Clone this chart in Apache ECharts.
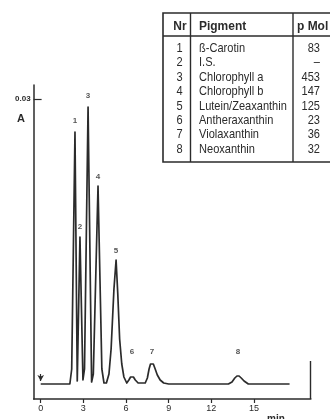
<!DOCTYPE html>
<html><head><meta charset="utf-8">
<script src="https://cdn.jsdelivr.net/npm/echarts@6/dist/echarts.min.js"></script>
<style>html,body{margin:0;padding:0;background:#fff}#c{width:330px;height:419px}</style>
</head><body><div id="c"></div>
<script>
// Chromatogram trace (retention time in min, absorbance A)
const traceTime = [0, 2.05, 2.18, 2.41, 2.57, 2.76, 2.97, 3.08, 3.33, 3.58, 3.70, 4.03, 4.30, 4.45, 4.62, 4.80, 4.95, 5.15, 5.30, 5.42, 5.55, 5.70, 5.85, 6.05, 6.20, 6.32, 6.42, 6.52, 6.65, 6.85, 7.35, 7.50, 7.62, 7.72, 7.82, 7.92, 8.05, 8.20, 8.40, 8.65, 9.00, 13.20, 13.45, 13.65, 13.80, 13.95, 14.10, 14.30, 14.60, 17.50];
const traceAbs  = [0.0015, 0.0015, 0.0030, 0.0267, 0.0018, 0.0162, 0.0019, 0.0030, 0.0292, 0.0017, 0.0025, 0.0213, 0.0030, 0.0016, 0.0016, 0.0025, 0.0050, 0.0110, 0.0139, 0.0105, 0.0060, 0.0035, 0.0022, 0.0016, 0.0019, 0.0022, 0.0023, 0.0022, 0.0019, 0.0016, 0.0016, 0.0021, 0.0030, 0.0035, 0.0036, 0.0035, 0.0030, 0.0024, 0.0019, 0.0016, 0.0015, 0.0015, 0.0017, 0.0021, 0.0023, 0.0023, 0.0021, 0.0018, 0.0015, 0.0015];
// Peak number labels
const peakNames = ['1', '2', '3', '4', '5', '6', '7', '8'];
const peakLabelTime = [2.41, 2.76, 3.33, 4.03, 5.30, 6.42, 7.83, 13.87];
const peakLabelAbs  = [0.0278, 0.0172, 0.0303, 0.0222, 0.0148, 0.0047, 0.0047, 0.0047];
// Axis ticks
const xTicks = [0, 3, 6, 9, 12, 15];
const yTicks = [0.03];
const yTickLabels = ['0.03'];
// Injection arrow
const injectTime = 0;
const injectFrom = 0.0025;
const injectTo = 0.0018;
// Table
const tableHeader = ['Nr', 'Pigment', 'p Mol'];
const tableNr = ['1', '2', '3', '4', '5', '6', '7', '8'];
const tablePigment = ['ß-Carotin', 'I.S.', 'Chlorophyll a', 'Chlorophyll b', 'Lutein/Zeaxanthin', 'Antheraxanthin', 'Violaxanthin', 'Neoxanthin'];
const tablePmol = ['83', '–', '453', '147', '125', '23', '36', '32'];

const INK = '#2b2b2b';
const FONT = 'Liberation Sans, Arial, sans-serif';

const chart = echarts.init(document.getElementById('c'), null, {renderer: 'canvas'});

const graphics = [];
// table frame
const tL = 163, tT = 13, tB = 162, tHead = 36, c1 = 190.5, c2 = 293;
graphics.push({type: 'rect', shape: {x: tL, y: tT, width: 190, height: tB - tT}, style: {fill: 'none', stroke: INK, lineWidth: 1.6}, silent: true});
graphics.push({type: 'line', shape: {x1: tL, y1: tHead, x2: 340, y2: tHead}, style: {stroke: INK, lineWidth: 1.4}, silent: true});
graphics.push({type: 'line', shape: {x1: c1, y1: tT, x2: c1, y2: tB}, style: {stroke: INK, lineWidth: 1.4}, silent: true});
graphics.push({type: 'line', shape: {x1: c2, y1: tT, x2: c2, y2: tB}, style: {stroke: INK, lineWidth: 1.4}, silent: true});
const hdrX = [180, 199, 297];
const hdrAlign = ['center', 'left', 'left'];
tableHeader.forEach((h, i) => {
  graphics.push({type: 'text', x: hdrX[i], y: 26, scaleX: 0.92, silent: true,
    style: {text: h, fontSize: 13, fontWeight: 'bold', fontFamily: FONT, fill: INK, align: hdrAlign[i], verticalAlign: 'middle'}});
});
const rowY0 = 48.5, rowStep = 14.4;
tableNr.forEach((n, i) => {
  const y = rowY0 + i * rowStep;
  graphics.push({type: 'text', x: 179.5, y: y, scaleX: 0.85, silent: true,
    style: {text: n, fontSize: 13, fontFamily: FONT, fill: INK, align: 'center', verticalAlign: 'middle'}});
  graphics.push({type: 'text', x: 199, y: y, scaleX: 0.85, silent: true,
    style: {text: tablePigment[i], fontSize: 13, fontFamily: FONT, fill: INK, align: 'left', verticalAlign: 'middle'}});
  graphics.push({type: 'text', x: 320, y: y, scaleX: 0.85, silent: true,
    style: {text: tablePmol[i], fontSize: 13, fontFamily: FONT, fill: INK, align: 'right', verticalAlign: 'middle'}});
});
// axis name "A" and unit "min", right frame stub
graphics.push({type: 'text', x: 21, y: 119, silent: true,
  style: {text: 'A', fontSize: 11, fontWeight: 'bold', fontFamily: FONT, fill: INK, align: 'center', verticalAlign: 'middle'}});
graphics.push({type: 'text', x: 276, y: 414, silent: true,
  style: {text: 'min', fontSize: 10, fontWeight: 'bold', fontFamily: FONT, fill: INK, align: 'center', verticalAlign: 'top'}});
graphics.push({type: 'line', shape: {x1: 310.5, y1: 361, x2: 310.5, y2: 399}, style: {stroke: INK, lineWidth: 1.4}, silent: true});

const option = {
  backgroundColor: '#fff',
  animation: false,
  grid: {left: 33.6, right: 19.1, top: 85, bottom: 20, containLabel: false, outerBoundsMode: 'none'},
  xAxis: {
    type: 'value', min: -0.5, max: 19,
    axisLine: {show: true, onZero: false, lineStyle: {color: INK, width: 1.5}},
    axisTick: {show: true, customValues: xTicks, length: 4, lineStyle: {color: INK, width: 1.2}},
    axisLabel: {show: true, customValues: xTicks, margin: 5, fontSize: 9, fontFamily: FONT, color: INK},
    splitLine: {show: false}
  },
  yAxis: {
    type: 'value', min: 0, max: 0.0314,
    axisLine: {show: true, onZero: false, lineStyle: {color: INK, width: 1.5}},
    axisTick: {show: true, inside: true, customValues: yTicks, length: 8, lineStyle: {color: INK, width: 1.2}},
    axisLabel: {show: true, customValues: yTicks, margin: 3, fontSize: 8, fontWeight: 'bold', fontFamily: FONT, color: INK,
      formatter: v => yTickLabels[yTicks.indexOf(v)] ?? ''},
    splitLine: {show: false}
  },
  series: [
    {
      type: 'line', name: 'trace',
      data: traceTime.map((t, i) => [t, traceAbs[i]]),
      showSymbol: false, symbol: 'none', smooth: false,
      lineStyle: {color: INK, width: 1.7, join: 'round'},
      markLine: {
        silent: true, symbol: ['none', 'arrow'], symbolSize: [5, 6], label: {show: false},
        lineStyle: {color: INK, width: 1.2, type: 'solid'},
        data: [[{coord: [injectTime, injectFrom]}, {coord: [injectTime, injectTo]}]]
      }
    },
    {
      type: 'scatter', name: 'labels', symbolSize: 0, silent: true,
      data: peakNames.map((n, i) => ({name: n, value: [peakLabelTime[i], peakLabelAbs[i]]})),
      label: {show: true, position: 'inside', formatter: p => p.name, fontSize: 8, fontWeight: 'bold', fontFamily: FONT, color: INK}
    }
  ],
  graphic: graphics
};
chart.setOption(option);
</script>
</body></html>
